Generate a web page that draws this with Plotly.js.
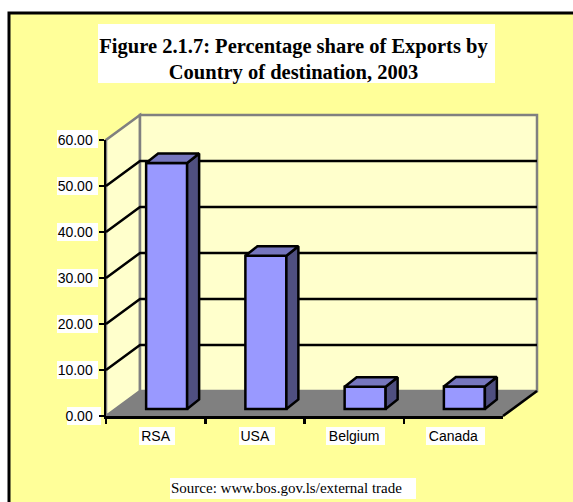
<!DOCTYPE html>
<html><head><meta charset="utf-8">
<script src="https://cdn.plot.ly/plotly-3.0.1.min.js"></script>
<style>html,body{margin:0;padding:0;background:#fff}#c{width:573px;height:502px}</style>
</head><body><div id="c"></div>
<script>
const categories = ['RSA','USA','Belgium','Canada'];
const shares = [53.5,33.3,4.85,4.9];
const gridValues = [10,20,30,40,50];
const titleLine1 = 'Figure 2.1.7: Percentage share of Exports by';
const titleLine2 = 'Country of destination, 2003';
const sourceText = 'Source: www.bos.gov.ls/external trade';

const W=573,H=502;
const yMax=60;
// front plane of the 3-D box, in pixels
const fL=106,fR=503,fB=416,fT=140;
const pxX=(fR-fL)/categories.length, pxY=(fB-fT)/yMax;
const depthX=34/pxX, depthY=25/pxY;
const fx=p=>p/W, fy=p=>1-p/H;
// scene axes (x,y) share the front-plane scale and extend over the whole box; drawn first
const sL=96,sR=550,sB=424,sT=104;
const sx=[(sL-fL)/pxX,(sR-fL)/pxX], sy=[(fB-sB)/pxY,(fB-sT)/pxY];
// bar axes (x3,y3): same scale, pushed part-way into the depth of the box
const bShiftX=11,bShiftY=7,bPad=10;
const barWidth=41/pxX, barDX=12/pxX, barDY=9.5/pxY;

const path=pts=>'M'+pts.map(p=>p[0]+' '+p[1]).join('L')+'Z';
const nC=categories.length;
const scene={xref:'x',yref:'y',layer:'below'};
const pxRect=(x0,y0,x1,y1)=>({type:'rect',xref:'paper',yref:'paper',layer:'below',x0:fx(x0),x1:fx(x1),y0:fy(y0),y1:fy(y1),fillcolor:'#fff',line:{width:0}});

const shapes=[];
shapes.push({type:'rect',xref:'paper',yref:'paper',layer:'below',x0:fx(9),y0:fy(13),x1:fx(590),y1:fy(520),fillcolor:'#FFFF99',line:{color:'#000',width:3}});
shapes.push(pxRect(98,24,495,83));
shapes.push(pxRect(170,478,416,499));
// tick label backgrounds
[[67,407,101],[57,361,98],[57,315,98],[57,269,98],[57,223,98],[57,177,98],[57,130,98]].forEach(b=>shapes.push(pxRect(b[0],b[1],b[2],b[1]+18)));
[[139,175],[239,275],[326,385],[426,485]].forEach(b=>shapes.push(pxRect(b[0],427,b[1],445)));
// side wall, back wall, floor
shapes.push({...scene,type:'path',path:path([[0,0],[depthX,depthY],[depthX,yMax+depthY],[0,yMax]]),fillcolor:'#FFFFCC',line:{color:'#808080',width:2.5}});
shapes.push({...scene,type:'path',path:path([[depthX,depthY],[nC+depthX,depthY],[nC+depthX,yMax+depthY],[depthX,yMax+depthY]]),fillcolor:'#FFFFCC',line:{color:'#808080',width:2.5}});
gridValues.forEach(v=>{
  shapes.push({...scene,type:'path',path:'M0 '+v+'L'+depthX+' '+(v+depthY)+'L'+(nC+depthX)+' '+(v+depthY),line:{color:'#000',width:2.5}});
});
shapes.push({...scene,type:'path',path:path([[0,0],[nC,0],[nC+depthX,depthY],[depthX,depthY]]),fillcolor:'#808080',line:{color:'#808080',width:1}});
shapes.push({...scene,type:'line',x0:nC,y0:0,x1:nC+depthX,y1:depthY,line:{color:'#000',width:2.5}});

// faces of the bars
const sideX=[],sideY=[],topX=[],topY=[];
shares.forEach((v,i)=>{
  const r=i+barWidth/2,l=i-barWidth/2;
  sideX.push(r,r+barDX,r+barDX,r,r,null); sideY.push(0,barDY,v+barDY,v,0,null);
  topX.push(l,r,r+barDX,l+barDX,l,null); topY.push(v,v,v+barDY,v+barDY,v,null);
});
const blk={color:'#000',width:2.5};
const traces=[
 {type:'scatter',x:[sx[0]],y:[sy[0]],mode:'none',xaxis:'x',yaxis:'y',showlegend:false,hoverinfo:'skip'},
 {type:'scatter',x:categories,y:shares,mode:'none',xaxis:'x2',yaxis:'y2',showlegend:false,hoverinfo:'skip'},
 {type:'bar',x:categories.map((c,i)=>i),y:shares,width:barWidth,xaxis:'x3',yaxis:'y3',marker:{color:'#9999FF',line:blk},showlegend:false},
 {type:'scatter',x:sideX,y:sideY,mode:'lines',fill:'toself',fillcolor:'#4F4F80',line:blk,xaxis:'x3',yaxis:'y3',showlegend:false,hoverinfo:'skip'},
 {type:'scatter',x:topX,y:topY,mode:'lines',fill:'toself',fillcolor:'#7676BE',line:blk,xaxis:'x3',yaxis:'y3',showlegend:false,hoverinfo:'skip'}
];
const axFont={family:'"Liberation Sans",Arial,sans-serif',size:14,color:'#000'};
const serif='"Liberation Serif","Times New Roman",serif';
const hidden=(d,r,anchor)=>({domain:d,range:r,visible:false,fixedrange:true,anchor:anchor,showgrid:false,zeroline:false});
const layout={
 width:W,height:H,margin:{l:0,r:0,t:0,b:0},paper_bgcolor:'#fff',plot_bgcolor:'rgba(0,0,0,0)',showlegend:false,
 title:{text:titleLine1+'<br>'+titleLine2,x:293.5/W,xanchor:'center',y:1-52.5/H,yanchor:'top',font:{family:serif,size:20.5,color:'#000',weight:700},pad:{t:0,b:0,l:0,r:0}},
 xaxis2:{type:'category',domain:[fx(fL),fx(fR)],range:[-0.5,nC-0.5],categoryorder:'array',categoryarray:categories,tickson:'boundaries',ticks:'outside',ticklen:5,tickwidth:2.5,tickcolor:'#000',showline:true,linecolor:'#000',linewidth:2.5,showgrid:false,zeroline:false,tickfont:axFont,anchor:'y2',ticklabelstandoff:6,fixedrange:true},
 yaxis2:{domain:[fy(fB),fy(fT)],range:[0,yMax],dtick:10,tick0:0,tickformat:'.2f',ticks:'outside',ticklen:5,tickwidth:2.5,tickcolor:'#000',showline:true,linecolor:'#000',linewidth:2.5,showgrid:false,zeroline:false,tickfont:axFont,anchor:'x2',ticklabelstandoff:3,fixedrange:true},
 xaxis3:hidden([fx(fL+bShiftX),fx(fR+bShiftX)],[-0.5,nC-0.5],'y3'),
 yaxis3:hidden([fy(fB-bShiftY+bPad),fy(fT-bShiftY)],[-bPad/pxY,yMax],'x3'),
 xaxis:hidden([fx(sL),fx(sR)],sx,'y'),
 yaxis:hidden([fy(sB),fy(sT)],sy,'x'),
 shapes:shapes,
 annotations:[{text:sourceText,xref:'paper',yref:'paper',x:286.5/W,y:fy(488),xanchor:'center',yanchor:'middle',showarrow:false,font:{family:serif,size:15,color:'#000'}}]
};
Plotly.newPlot('c',traces,layout,{displayModeBar:false,staticPlot:true});
</script></body></html>
